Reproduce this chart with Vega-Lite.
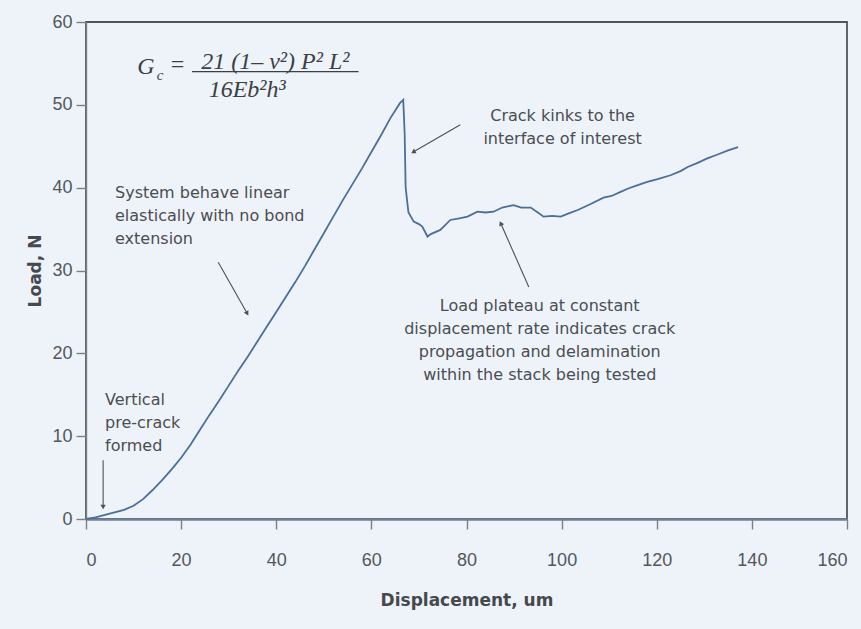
{
  "$schema": "https://vega.github.io/schema/vega-lite/v6.json",
  "width": 761,
  "height": 497,
  "autosize": {"type": "none"},
  "padding": {"left": 86, "top": 22, "right": 14, "bottom": 110},
  "background": "#eef3f9",
  "config": {
    "view": {"stroke": "#50555c", "strokeWidth": 1.8},
    "axis": {
      "grid": false,
      "labelFont": "Liberation Sans",
      "labelFontSize": 18,
      "labelColor": "#52575d",
      "titleFont": "DejaVu Sans",
      "titleFontWeight": "bold",
      "titleFontSize": 17,
      "titleColor": "#45494e",
      "tickColor": "#7a8088",
      "tickWidth": 1.4
    }
  },
  "datasets": {
    "curve": [
      {"d": 0, "load": 0}, {"d": 2, "load": 0.2}, {"d": 4, "load": 0.5}, {"d": 6, "load": 0.8},
      {"d": 8, "load": 1.1}, {"d": 10, "load": 1.6}, {"d": 12, "load": 2.4}, {"d": 14, "load": 3.5},
      {"d": 16, "load": 4.7}, {"d": 18, "load": 6.0}, {"d": 20, "load": 7.4}, {"d": 22, "load": 9.0},
      {"d": 24, "load": 10.8}, {"d": 26, "load": 12.6}, {"d": 28, "load": 14.3}, {"d": 30, "load": 16.1},
      {"d": 32, "load": 17.9}, {"d": 34, "load": 19.6}, {"d": 36, "load": 21.4}, {"d": 38, "load": 23.2},
      {"d": 40, "load": 25.0}, {"d": 42, "load": 26.8}, {"d": 44, "load": 28.6}, {"d": 46, "load": 30.5},
      {"d": 48, "load": 32.5}, {"d": 50, "load": 34.5}, {"d": 52, "load": 36.5}, {"d": 54, "load": 38.5},
      {"d": 56, "load": 40.4}, {"d": 58, "load": 42.3}, {"d": 60, "load": 44.3}, {"d": 62, "load": 46.3},
      {"d": 64, "load": 48.4}, {"d": 66, "load": 50.2}, {"d": 66.7, "load": 50.6}, {"d": 67.0, "load": 46.5},
      {"d": 67.2, "load": 40.1}, {"d": 67.5, "load": 38.5}, {"d": 67.8, "load": 37.0}, {"d": 68.9, "load": 35.9},
      {"d": 70.0, "load": 35.6}, {"d": 70.7, "load": 35.3}, {"d": 71.8, "load": 34.1}, {"d": 72.5, "load": 34.4},
      {"d": 74.5, "load": 34.9}, {"d": 76.6, "load": 36.1}, {"d": 78.5, "load": 36.3}, {"d": 80.2, "load": 36.5},
      {"d": 82.3, "load": 37.1}, {"d": 84, "load": 37.0}, {"d": 85.7, "load": 37.1}, {"d": 87.5, "load": 37.6},
      {"d": 89.9, "load": 37.9}, {"d": 91.5, "load": 37.6}, {"d": 93.5, "load": 37.6}, {"d": 95, "load": 37.0},
      {"d": 96.2, "load": 36.5}, {"d": 98, "load": 36.6}, {"d": 99.8, "load": 36.5}, {"d": 101.5, "load": 36.9},
      {"d": 103.4, "load": 37.3}, {"d": 106, "load": 38.0}, {"d": 108.8, "load": 38.8}, {"d": 110.5, "load": 39.0},
      {"d": 112.4, "load": 39.5}, {"d": 114, "load": 39.9}, {"d": 116, "load": 40.3}, {"d": 118, "load": 40.7},
      {"d": 120, "load": 41.0}, {"d": 122.9, "load": 41.5}, {"d": 125, "load": 42.0}, {"d": 126.5, "load": 42.5},
      {"d": 128.6, "load": 43.0}, {"d": 130.5, "load": 43.5}, {"d": 132.8, "load": 44.0}, {"d": 135, "load": 44.5},
      {"d": 137.1, "load": 44.9}
    ],
    "arrows": [
      {"x": 3.6, "y": 7.1, "x2": 3.6, "y2": 1.45, "heading": 180},
      {"x": 27.8, "y": 31.0, "x2": 33.9, "y2": 24.8, "heading": 151},
      {"x": 78.7, "y": 47.6, "x2": 68.8, "y2": 44.3, "heading": 240},
      {"x": 93.1, "y": 28.0, "x2": 87.2, "y2": 35.7, "heading": 336}
    ],
    "notesLeft": [
      {"x": 6.1, "y": 38.7, "lines": ["System behave linear", "elastically with no bond", "extension"]},
      {"x": 4.0, "y": 13.8, "lines": ["Vertical", "pre-crack", "formed"]}
    ],
    "notesCenter": [
      {"x": 100.2, "y": 48.1, "lines": ["Crack kinks to the", "interface of interest"]},
      {"x": 95.4, "y": 25.1, "lines": ["Load plateau at constant", "displacement rate indicates crack", "propagation and delamination", "within the stack being tested"]}
    ],
    "equation": [
      {"x": 12.6, "y": 54.6, "part": "G"},
      {"x": 19.2, "y": 54.8, "part": "="},
      {"x": 39.8, "y": 55.2, "part": "21 (1– ν²) P² L²"},
      {"x": 33.9, "y": 51.8, "part": "16Eb²h³"}
    ],
    "subscript": [{"x": 15.6, "y": 53.6, "part": "c"}],
    "fractionBar": [{"x": 22.3, "x2": 57.3, "y": 54.0}]
  },
  "layer": [
    {
      "data": {"name": "curve"},
      "mark": {"type": "line", "color": "#4a6f98", "strokeWidth": 1.8},
      "encoding": {
        "x": {
          "field": "d", "type": "quantitative",
          "scale": {"domain": [0, 160], "nice": false},
          "axis": {
            "values": [0, 20, 40, 60, 80, 100, 120, 140, 160],
            "title": "Displacement, um",
            "domainColor": "#6f8196", "domainWidth": 2.4,
            "tickSize": 10, "labelPadding": 22, "titlePadding": 23
          }
        },
        "y": {
          "field": "load", "type": "quantitative",
          "scale": {"domain": [0, 60], "nice": false},
          "axis": {
            "values": [0, 10, 20, 30, 40, 50, 60],
            "title": "Load, N",
            "domainColor": "#7a8088", "domainWidth": 1.4,
            "tickSize": 10, "labelPadding": 4, "titlePadding": 7
          }
        }
      }
    },
    {
      "data": {"name": "arrows"},
      "mark": {"type": "rule", "color": "#4d5055", "strokeWidth": 1.1},
      "encoding": {
        "x": {"field": "x", "type": "quantitative"},
        "y": {"field": "y", "type": "quantitative"},
        "x2": {"field": "x2"},
        "y2": {"field": "y2"}
      }
    },
    {
      "data": {"name": "arrows"},
      "mark": {"type": "point", "shape": "triangle-up", "filled": true, "color": "#4d5055", "size": 28, "opacity": 1},
      "encoding": {
        "x": {"field": "x2", "type": "quantitative"},
        "y": {"field": "y2", "type": "quantitative"},
        "angle": {"field": "heading", "type": "quantitative", "scale": null}
      }
    },
    {
      "data": {"name": "notesLeft"},
      "mark": {"type": "text", "align": "left", "baseline": "alphabetic", "font": "DejaVu Sans", "fontSize": 16, "lineHeight": 23, "color": "#4a4d52"},
      "encoding": {
        "x": {"field": "x", "type": "quantitative"},
        "y": {"field": "y", "type": "quantitative"},
        "text": {"field": "lines"}
      }
    },
    {
      "data": {"name": "notesCenter"},
      "mark": {"type": "text", "align": "center", "baseline": "alphabetic", "font": "DejaVu Sans", "fontSize": 16, "lineHeight": 23, "color": "#4a4d52"},
      "encoding": {
        "x": {"field": "x", "type": "quantitative"},
        "y": {"field": "y", "type": "quantitative"},
        "text": {"field": "lines"}
      }
    },
    {
      "data": {"name": "equation"},
      "mark": {"type": "text", "align": "center", "baseline": "middle", "font": "Liberation Serif", "fontStyle": "italic", "fontSize": 24, "color": "#3c3f44"},
      "encoding": {
        "x": {"field": "x", "type": "quantitative"},
        "y": {"field": "y", "type": "quantitative"},
        "text": {"field": "part"}
      }
    },
    {
      "data": {"name": "subscript"},
      "mark": {"type": "text", "align": "center", "baseline": "middle", "font": "Liberation Serif", "fontStyle": "italic", "fontSize": 15, "color": "#3c3f44"},
      "encoding": {
        "x": {"field": "x", "type": "quantitative"},
        "y": {"field": "y", "type": "quantitative"},
        "text": {"field": "part"}
      }
    },
    {
      "data": {"name": "fractionBar"},
      "mark": {"type": "rule", "color": "#3c3f44", "strokeWidth": 1.3},
      "encoding": {
        "x": {"field": "x", "type": "quantitative"},
        "x2": {"field": "x2"},
        "y": {"field": "y", "type": "quantitative"}
      }
    }
  ]
}
